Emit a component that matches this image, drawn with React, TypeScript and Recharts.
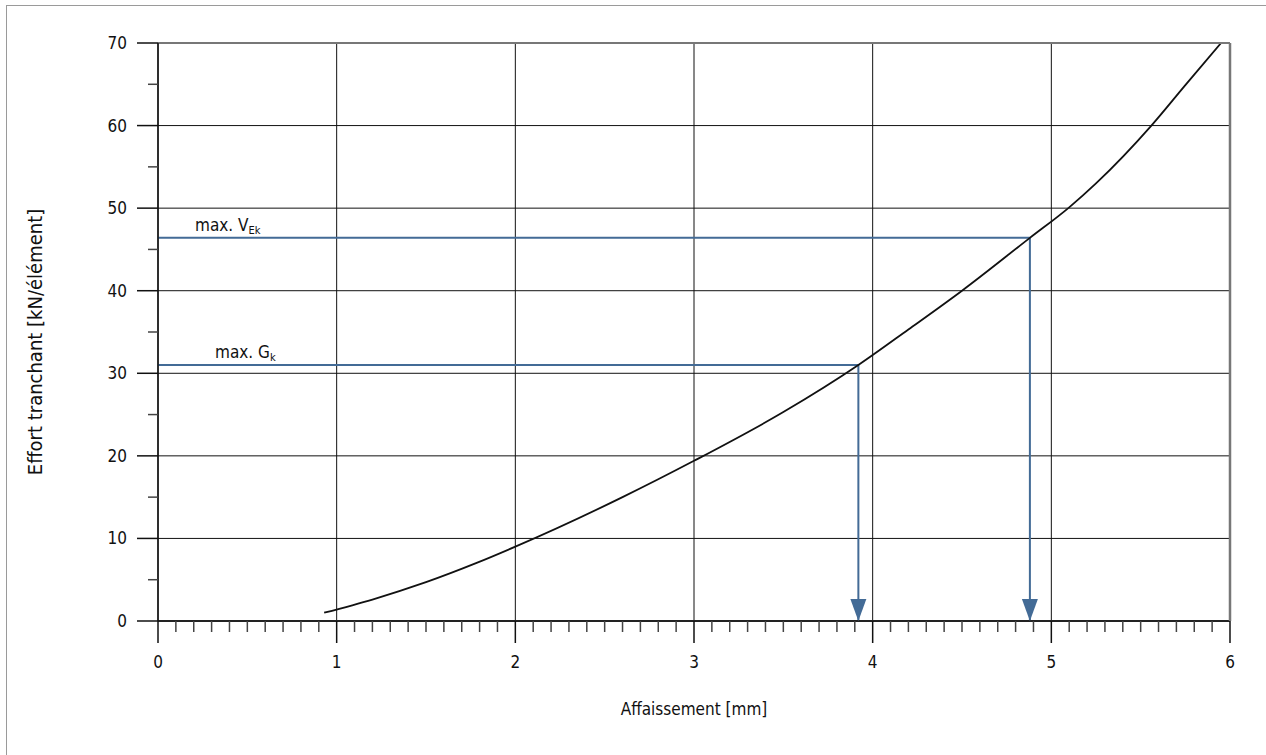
import { ComposedChart, Line, XAxis, YAxis, CartesianGrid } from "recharts";

// load / settlement curve
const curveX = [0.93, 1.2, 1.5, 1.78, 2.0, 2.6, 3.0, 3.5, 3.92, 4.2, 4.5, 4.88, 5.1, 5.25, 5.56, 5.75, 5.95];
const curveY = [1.0, 2.6, 4.7, 7.0, 9.0, 15.0, 19.4, 25.3, 31.0, 35.3, 40.0, 46.4, 50.1, 53.0, 60.0, 64.9, 70.0];

// design values and the settlements read from them
const maxVEk = 46.4;
const maxGk = 31.0;
const settleVEk = 4.88;
const settleGk = 3.92;

const xMajorTicks = [0, 1, 2, 3, 4, 5, 6];
const xMinorTicks = [
  0.1, 0.2, 0.3, 0.4, 0.5, 0.6, 0.7, 0.8, 0.9,
  1.1, 1.2, 1.3, 1.4, 1.5, 1.6, 1.7, 1.8, 1.9,
  2.1, 2.2, 2.3, 2.4, 2.5, 2.6, 2.7, 2.8, 2.9,
  3.1, 3.2, 3.3, 3.4, 3.5, 3.6, 3.7, 3.8, 3.9,
  4.1, 4.2, 4.3, 4.4, 4.5, 4.6, 4.7, 4.8, 4.9,
  5.1, 5.2, 5.3, 5.4, 5.5, 5.6, 5.7, 5.8, 5.9,
];
const yMajorTicks = [0, 10, 20, 30, 40, 50, 60, 70];
const yMinorTicks = [5, 15, 25, 35, 45, 55, 65];

const curveData = curveX.map((x, i) => ({ x, y: curveY[i] }));
const vekData = [
  { x: 0, y: maxVEk },
  { x: settleVEk, y: maxVEk },
  { x: settleVEk, y: 0 },
];
const gkData = [
  { x: 0, y: maxGk },
  { x: settleGk, y: maxGk },
  { x: settleGk, y: 0 },
];

const FONT = "'DejaVu Sans Condensed', 'Liberation Sans Narrow', 'Liberation Sans', sans-serif";
const BLUE = "#436b96";
const THIN = 0.001; // axes need a non-zero size to be drawn

// tick renderers: draw the tick line ourselves, plus the label for major ticks
const xTick = (size: number, margin: number, withLabel: boolean, color: string) => (props: any) => {
  const { x, y, payload } = props;
  const top = y - margin - size;
  return (
    <g>
      <line x1={x} x2={x} y1={top} y2={top + size} stroke={color} strokeWidth={1.5} />
      {withLabel && (
        <text x={x} y={y} textAnchor="middle" dominantBaseline="hanging" fontSize={17} fill="#111" fontFamily={FONT}>
          {payload.value}
        </text>
      )}
    </g>
  );
};

const yTick = (size: number, margin: number, withLabel: boolean, color: string) => (props: any) => {
  const { x, y, payload } = props;
  const right = x + margin + size;
  return (
    <g>
      <line x1={right - size} x2={right} y1={y} y2={y} stroke={color} strokeWidth={1.5} />
      {withLabel && (
        <text x={x} y={y} textAnchor="end" dominantBaseline="central" fontSize={17} fill="#111" fontFamily={FONT}>
          {payload.value}
        </text>
      )}
    </g>
  );
};

const arrowDot = (last: number) => (props: any) => {
  const { cx, cy, index } = props;
  if (index !== last) return <g key={`d-${index}`} />;
  return (
    <path
      key={`d-${index}`}
      d={`M${cx},${cy} L${cx - 8},${cy - 22} L${cx + 8},${cy - 22} Z`}
      fill={BLUE}
      stroke="none"
    />
  );
};

const markLabel = (main: string, sub: string, dx: number) => (props: any) => {
  const { x, y, index } = props;
  if (index !== 0) return <g key={`l-${index}`} />;
  return (
    <text key={`l-${index}`} x={x + dx} y={y - 7} fontSize={17} fill="#111" fontFamily={FONT}>
      {main}
      <tspan fontSize={11} dy={3}>
        {sub}
      </tspan>
    </text>
  );
};

export default function App() {
  return (
    <div style={{ position: "absolute", left: 0, top: 0, width: 1266, height: 755, overflow: "hidden", background: "#fff", fontFamily: FONT }}>
      <div
        style={{
          position: "absolute",
          left: 6,
          top: 5,
          width: 1300,
          height: 800,
          borderTop: "1.5px solid #9a9a9a",
          borderLeft: "1.5px solid #9a9a9a",
        }}
      />
      <div style={{ position: "absolute", left: 0, top: 0 }}>
        <ComposedChart width={1266} height={755} margin={{ top: 43, right: 36, bottom: 134, left: 158 }}>
          <CartesianGrid xAxisId="major" yAxisId="major" stroke="#111" strokeWidth={1} />
          <XAxis
            xAxisId="minor"
            type="number"
            dataKey="x"
            domain={[0, 6]}
            allowDataOverflow
            ticks={xMinorTicks}
            interval={0}
            height={THIN}
            axisLine={false}
            tickLine={false}
            tickSize={11}
            tickMargin={0}
            tick={xTick(11, 0, false, "#444")}
          />
          <XAxis
            xAxisId="major"
            type="number"
            dataKey="x"
            domain={[0, 6]}
            allowDataOverflow
            ticks={xMajorTicks}
            interval={0}
            height={THIN}
            tickSize={22}
            tickMargin={12}
            axisLine={{ stroke: "#222", strokeWidth: 2 }}
            tickLine={false}
            tick={xTick(22, 12, true, "#111")}
            label={{ value: "Affaissement [mm]", position: "bottom", offset: 82, fill: "#111", fontSize: 17, fontFamily: FONT }}
          />
          <XAxis
            xAxisId="top"
            orientation="top"
            type="number"
            domain={[0, 6]}
            allowDataOverflow
            height={THIN}
            tick={false}
            tickLine={false}
            axisLine={{ stroke: "#777", strokeWidth: 2 }}
          />
          <YAxis
            yAxisId="minor"
            type="number"
            domain={[0, 70]}
            allowDataOverflow
            ticks={yMinorTicks}
            interval={0}
            width={THIN}
            axisLine={false}
            tickLine={false}
            tickSize={10}
            tickMargin={0}
            tick={yTick(10, 0, false, "#444")}
          />
          <YAxis
            yAxisId="major"
            type="number"
            domain={[0, 70]}
            allowDataOverflow
            ticks={yMajorTicks}
            interval={0}
            width={THIN}
            tickSize={21}
            tickMargin={10}
            axisLine={{ stroke: "#111", strokeWidth: 1.5 }}
            tickLine={false}
            tick={yTick(21, 10, true, "#111")}
            label={{
              content: (p: any) => {
                const vb = p.viewBox;
                const cx = vb.x - 123;
                const cy = vb.y + vb.height / 2 + 10;
                return (
                  <text
                    x={cx}
                    y={cy}
                    transform={`rotate(-90 ${cx} ${cy})`}
                    textAnchor="middle"
                    dominantBaseline="central"
                    fontSize={20}
                    fill="#111"
                    fontFamily={FONT}
                  >
                    Effort tranchant [kN/élément]
                  </text>
                );
              },
            }}
          />
          <YAxis
            yAxisId="right"
            orientation="right"
            type="number"
            domain={[0, 70]}
            allowDataOverflow
            width={THIN}
            tick={false}
            tickLine={false}
            axisLine={{ stroke: "#777", strokeWidth: 2.5 }}
          />
          <Line
            xAxisId="major"
            yAxisId="major"
            data={vekData}
            dataKey="y"
            type="linear"
            stroke={BLUE}
            strokeWidth={2}
            dot={arrowDot(vekData.length - 1)}
            activeDot={false}
            label={markLabel("max. V", "Ek", 37)}
            isAnimationActive={false}
          />
          <Line
            xAxisId="major"
            yAxisId="major"
            data={gkData}
            dataKey="y"
            type="linear"
            stroke={BLUE}
            strokeWidth={2}
            dot={arrowDot(gkData.length - 1)}
            activeDot={false}
            label={markLabel("max. G", "k", 57)}
            isAnimationActive={false}
          />
          <Line
            xAxisId="major"
            yAxisId="major"
            data={curveData}
            dataKey="y"
            type="monotone"
            stroke="#111"
            strokeWidth={1.8}
            dot={false}
            activeDot={false}
            isAnimationActive={false}
          />
        </ComposedChart>
      </div>
    </div>
  );
}
